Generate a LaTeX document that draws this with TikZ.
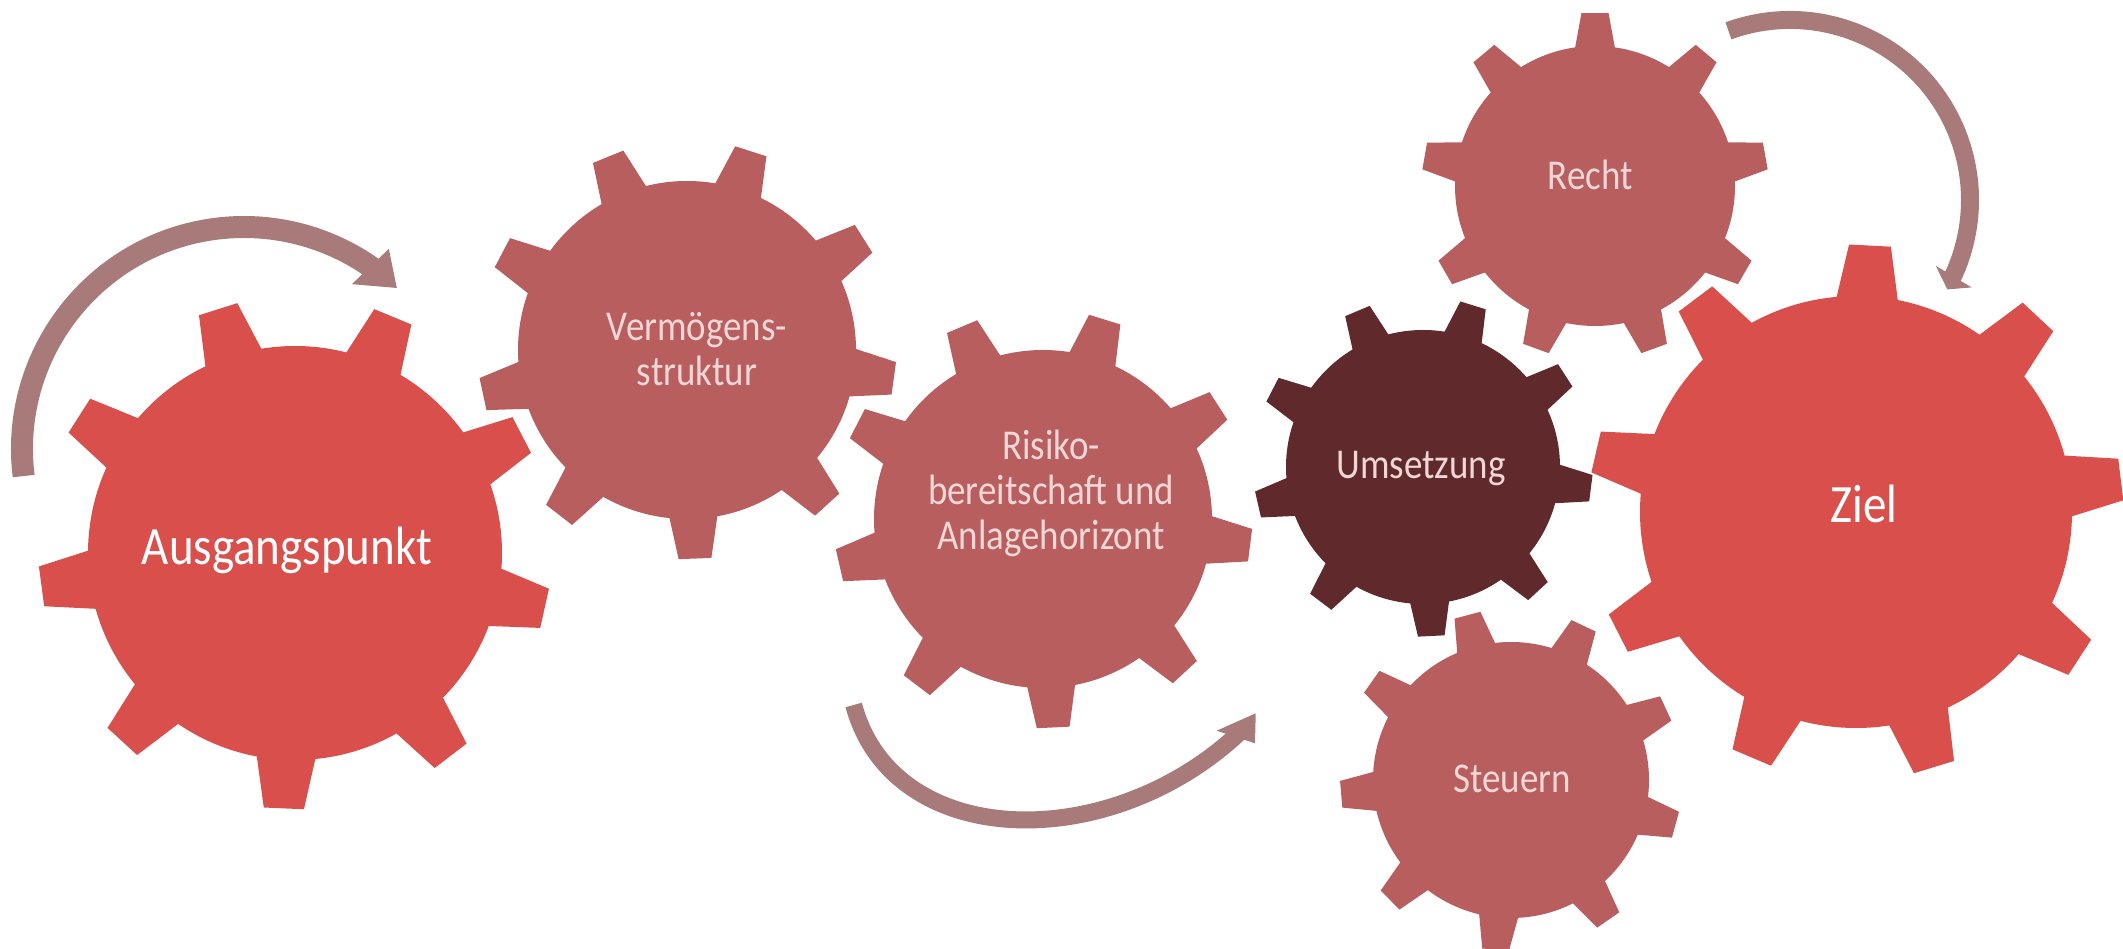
\documentclass[tikz,border=0pt]{standalone}
\usepackage{fontspec}
\setmainfont{Carlito}[FakeStretch=0.87]
\usepackage{xcolor}
\usepackage{tikz}

\definecolor{gearred}{HTML}{D94F4C}
\definecolor{gearrose}{HTML}{B85E5E}
\definecolor{geardark}{HTML}{60292B}
\definecolor{arrowrose}{HTML}{A87B7A}
\definecolor{labelpink}{HTML}{F0D6D6}

\begin{document}
\begin{tikzpicture}[x=1pt,y=1pt,
    biglabel/.style={text=white,font=\fontsize{54}{60}\selectfont,inner sep=0pt,anchor=base},
    gearlabel/.style={text=labelpink,font=\fontsize{42.5}{45}\selectfont,inner sep=0pt,align=center,anchor=base},
    arrowband/.style={draw=arrowrose,line cap=butt},
    tiphead/.style={fill=arrowrose}]
    \useasboundingbox (0,0) rectangle (2123,948);

    \def\tip{1.235}
    % center, radius, angle of first tooth, colour
    \def\gear#1#2#3#4{%
      \fill[#4] (#1) circle[radius=#2];
      \foreach \a in {0,40,...,320}
      \fill[#4,shift={(#1)},rotate=#3+\a] (0.9*#2,-0.158*#2) -- (\tip*#2,-0.097*#2)
        -- (\tip*#2,0.097*#2) -- (0.9*#2,0.158*#2) -- cycle;
    }

    % Gears
    \gear{295,395}{207}{107.5}{gearred}
    \gear{687,598}{169}{112.2}{gearrose}
    \gear{1043,429}{169}{112.8}{gearrose}
    \gear{1423,481}{137}{112.8}{geardark}
    \gear{1595,762}{140}{90}{gearrose}
    \gear{1511,168}{138}{104.8}{gearrose}
    \gear{1856,436}{216}{7}{gearred}

    % Labels (base = last line)
    \node[biglabel] (ausgang) at (287,383.7) {Ausgangspunkt};
    \node[biglabel] (ziel) at (1864,425.6) {Ziel};
    \node[gearlabel] (vermoegen) at (697,562) {Vermögens-\\struktur};
    \node[gearlabel] (risiko) at (1051,398) {Risiko-\\bereitschaft und\\Anlagehorizont};
    \node[gearlabel] (umsetzung) at (1421,469.7) {Umsetzung};
    \node[gearlabel] (recht) at (1590,758.7) {Recht};
    \node[gearlabel] (steuern) at (1512,155.3) {Steuern};

    % Arrows
    \draw[arrowband,line width=22] (244,499) ++(187:222) arc[start angle=187,end angle=54.5,radius=222];
    \fill[tiphead,shift={(244,499)}] (54.1:247) -- (46.5:222) -- (56.8:197) -- cycle;

    \draw[arrowband,line width=17] (853.7,243) .. controls (892.5,98.1) and (1107.1,91.9) .. (1238.7,214.7);
    \fill[tiphead] (1216.7,217.3) -- (1255.7,234.7) -- (1255,204.7) -- cycle;

    \draw[arrowband,line width=18] (1790,748) ++(110:180) arc[start angle=110,end angle=-25.5,radius=180];
    \fill[tiphead,shift={(1790,748)}] (-25.7:201.6) -- (-29.6:181) -- (-24.3:160) -- cycle;
  \end{tikzpicture}
\end{document}
